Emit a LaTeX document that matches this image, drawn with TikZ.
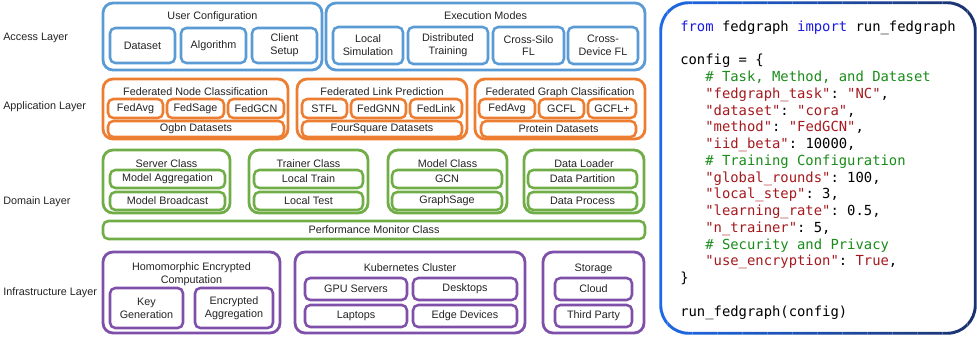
\documentclass[tikz,border=0pt]{standalone}
\usepackage{fontspec}
\setmainfont{Liberation Sans}
\setmonofont{DejaVu Sans Mono}
\definecolor{cblue}{RGB}{91,155,213}
\definecolor{corange}{RGB}{237,125,49}
\definecolor{cgreen}{RGB}{112,173,71}
\definecolor{cpurple}{RGB}{127,80,170}
\definecolor{txt}{RGB}{35,35,35}
\definecolor{kw}{RGB}{25,25,230}
\definecolor{cm}{RGB}{25,140,25}
\definecolor{st}{RGB}{165,25,30}
\definecolor{codeblue}{RGB}{30,105,230}
\definecolor{navyc}{RGB}{27,50,110}
\newcommand\bx[7]{\node[#1, minimum width={(#4-#2)*0.75pt}, minimum height={(#5-#3)*0.75pt}] (#6) at ({(#2+#4)/2},{(#3+#5)/2}) {#7};}
\tikzset{
  obox/.style={draw=#1, line width=2.1pt, rounded corners=7.5pt, inner sep=0pt},
  ibox/.style={draw=#1, line width=1.9pt, rounded corners=4pt, inner sep=0pt, align=center, text=txt, font=\fontsize{8.1}{9.6}\selectfont},
  ttl/.style={inner sep=0pt, anchor=base, text=txt, align=center, font=\fontsize{8.1}{9.2}\selectfont},
  lay/.style={inner sep=0pt, anchor=base west, text=txt, font=\fontsize{8.1}{9.6}\selectfont},
}
\begin{document}
\begin{tikzpicture}[x=0.75pt, y=-0.75pt]
\useasboundingbox (0,0) rectangle (977,336);
% layer labels
\node[lay] (l1) at (3,40) {Access Layer};
\node[lay] (l2) at (3,109) {Application Layer};
\node[lay] (l3) at (3,204) {Domain Layer};
\node[lay] (l4) at (3,295) {Infrastructure Layer};
% Access layer
\bx{obox=cblue}{103}{3}{322}{70}{uc}{}
\node[ttl] (tuc) at (212.5,19) {User Configuration};
\bx{ibox=cblue}{110}{28}{175}{63}{ds}{Dataset}
\bx{ibox=cblue}{181}{28}{246}{63}{alg}{Algorithm}
\bx{ibox=cblue}{252}{28}{317}{63}{cs}{Client\\Setup}
\bx{obox=cblue}{326}{3}{645}{70}{em}{}
\node[ttl] (tem) at (485.5,19) {Execution Modes};
\bx{ibox=cblue}{333}{27}{403}{64}{ls}{Local\\Simulation}
\bx{ibox=cblue}{408}{27}{488}{64}{dt}{Distributed\\Training}
\bx{ibox=cblue}{493}{27}{564}{64}{csf}{Cross-Silo\\FL}
\bx{ibox=cblue}{568}{27}{638}{64}{cdf}{Cross-\\Device FL}
% Application layer
\bx{obox=corange}{103}{79}{288}{139}{fnc}{}
\node[ttl] (tfnc) at (195.5,95) {Federated Node Classification};
\bx{ibox=corange}{108}{99}{163}{118}{fa1}{FedAvg}
\bx{ibox=corange}{167}{99}{224}{118}{fs}{FedSage}
\bx{ibox=corange}{228}{99}{284}{118}{fg}{FedGCN}
\bx{ibox=corange}{108}{121}{284}{137}{ogbn}{Ogbn Datasets}
\bx{obox=corange}{297}{79}{467}{139}{flp}{}
\node[ttl] (tflp) at (382,95) {Federated Link Prediction};
\bx{ibox=corange}{302}{99}{347}{118}{stfl}{STFL}
\bx{ibox=corange}{351}{99}{406}{118}{fgnn}{FedGNN}
\bx{ibox=corange}{410}{99}{462}{118}{flink}{FedLink}
\bx{ibox=corange}{302}{121}{462}{137}{fsq}{FourSquare Datasets}
\bx{obox=corange}{475}{79}{645}{139}{fgc}{}
\node[ttl] (tfgc) at (560,95) {Federated Graph Classification};
\bx{ibox=corange}{479}{99}{535}{118}{fa2}{FedAvg}
\bx{ibox=corange}{539}{99}{584}{118}{gcfl}{GCFL}
\bx{ibox=corange}{588}{99}{636}{118}{gcflp}{GCFL+}
\bx{ibox=corange}{481}{121}{636}{137}{prot}{Protein Datasets}
% Domain layer
\bx{obox=cgreen}{103}{150}{230}{213}{srv}{}
\node[ttl] (tsrv) at (166.5,167) {Server Class};
\bx{ibox=cgreen}{110}{170}{225}{188}{magg}{Model Aggregation}
\bx{ibox=cgreen}{110}{192}{225}{210}{mbc}{Model Broadcast}
\bx{obox=cgreen}{249}{150}{368}{213}{trn}{}
\node[ttl] (ttrn) at (308.5,167) {Trainer Class};
\bx{ibox=cgreen}{254}{170}{363}{188}{ltr}{Local Train}
\bx{ibox=cgreen}{254}{192}{363}{210}{lte}{Local Test}
\bx{obox=cgreen}{388}{150}{507}{213}{mdl}{}
\node[ttl] (tmdl) at (447.5,167) {Model Class};
\bx{ibox=cgreen}{392}{170}{502}{188}{gcn}{GCN}
\bx{ibox=cgreen}{392}{192}{502}{210}{gs}{GraphSage}
\bx{obox=cgreen}{524}{150}{644}{213}{dl}{}
\node[ttl] (tdl) at (584,167) {Data Loader};
\bx{ibox=cgreen}{528}{170}{637}{188}{dp}{Data Partition}
\bx{ibox=cgreen}{528}{192}{637}{210}{dpr}{Data Process}
\bx{ibox=cgreen}{103}{221}{645}{239}{pm}{Performance Monitor Class}
% Infrastructure layer
\bx{obox=cpurple}{103}{252}{280}{333}{hec}{}
\node[ttl] (thec) at (191.5,283) {Homomorphic Encrypted\\Computation};
\bx{ibox=cpurple}{110}{288}{183}{328}{kg}{Key\\Generation}
\bx{ibox=cpurple}{195}{288}{273}{328}{ea}{Encrypted\\Aggregation}
\bx{obox=cpurple}{295}{252}{525}{333}{k8s}{}
\node[ttl] (tk8s) at (410,271) {Kubernetes Cluster};
\bx{ibox=cpurple}{305}{278}{407}{300}{gpu}{GPU Servers}
\bx{ibox=cpurple}{413}{278}{517}{300}{desk}{Desktops}
\bx{ibox=cpurple}{305}{305}{407}{327}{lap}{Laptops}
\bx{ibox=cpurple}{413}{305}{517}{327}{edge}{Edge Devices}
\bx{obox=cpurple}{543}{252}{644}{333}{sto}{}
\node[ttl] (tsto) at (593.5,271) {Storage};
\bx{ibox=cpurple}{555}{278}{632}{300}{cloud}{Cloud}
\bx{ibox=cpurple}{555}{305}{632}{327}{tp}{Third Party}
% code box
\bx{inner sep=0pt}{661}{3}{975}{333}{codebox}{}
\foreach \i in {0,...,25}{
  \pgfmathsetmacro\xa{655+12.5*\i}
  \pgfmathsetmacro\xb{\xa+12.7}
  \pgfmathtruncatemacro\p{4*\i}
  \begin{scope}
    \clip (\xa,-5) rectangle (\xb,345);
    \draw[line width=2.2pt, color=navyc!\p!codeblue, rounded corners=21pt] (codebox.north west) rectangle (codebox.south east);
  \end{scope}
}
\node[anchor=north west, inner sep=0pt, align=left, text=black, font=\ttfamily\fontsize{10.4}{12.57}\selectfont] (code) at (680,20.5) {%
\textcolor{kw}{from} fedgraph \textcolor{kw}{import} run\_fedgraph\\
\mbox{}\\
config = \{\\
~~~\textcolor{cm}{\# Task, Method, and Dataset}\\
~~~\textcolor{st}{"fedgraph\_task"}: \textcolor{st}{"NC"},\\
~~~\textcolor{st}{"dataset"}: \textcolor{st}{"cora"},\\
~~~\textcolor{st}{"method"}: \textcolor{st}{"FedGCN"},\\
~~~\textcolor{st}{"iid\_beta"}: 10000,\\
~~~\textcolor{cm}{\# Training Configuration}\\
~~~\textcolor{st}{"global\_rounds"}: 100,\\
~~~\textcolor{st}{"local\_step"}: 3,\\
~~~\textcolor{st}{"learning\_rate"}: 0.5,\\
~~~\textcolor{st}{"n\_trainer"}: 5,\\
~~~\textcolor{cm}{\# Security and Privacy}\\
~~~\textcolor{st}{"use\_encryption"}: \textcolor{st}{True},\\
\}\\
\mbox{}\\
run\_fedgraph(config)};
\end{tikzpicture}
\end{document}
